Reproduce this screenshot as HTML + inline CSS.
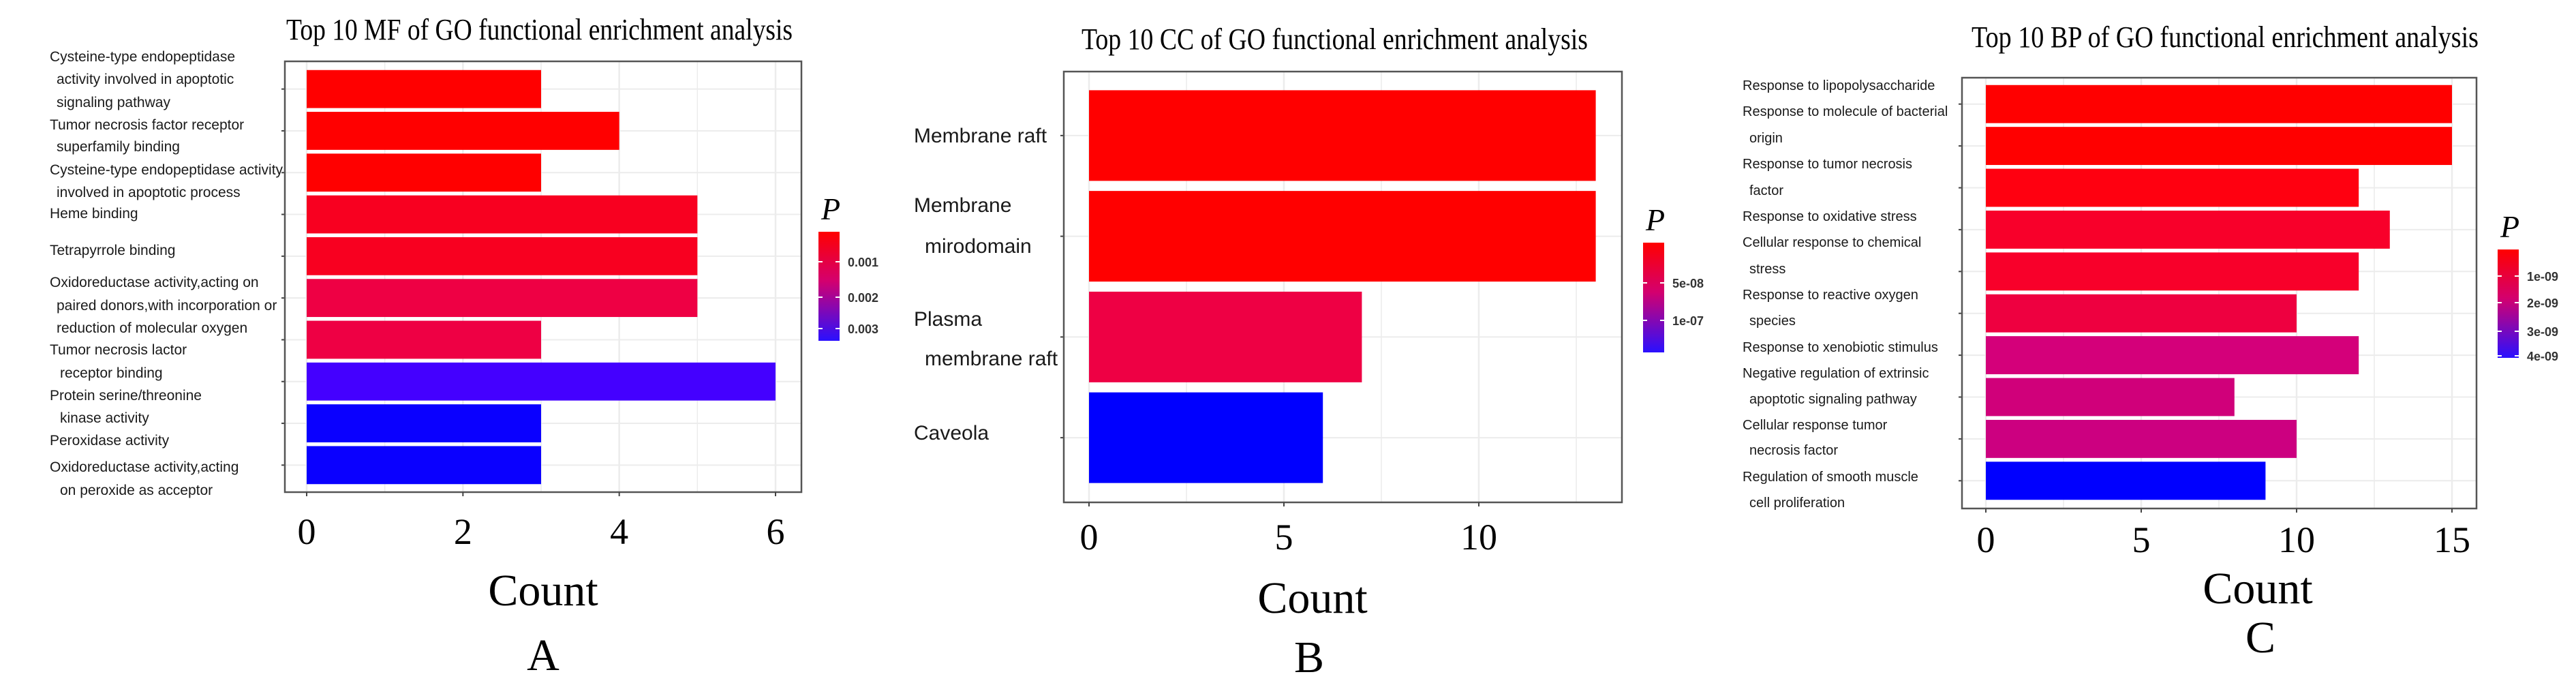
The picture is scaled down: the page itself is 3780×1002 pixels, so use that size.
<!DOCTYPE html>
<html><head><meta charset="utf-8"><style>
html,body{margin:0;padding:0;background:#fff;}
svg{display:block;}
.lab{font-family:"Liberation Sans",sans-serif;fill:#1a1a1a;}
.ser{font-family:"Liberation Serif",serif;fill:#000;}
.leg{font-family:"Liberation Sans",sans-serif;font-weight:bold;fill:#333;font-size:18px;}
</style></head><body>
<svg id="fig" width="3780" height="1002" viewBox="0 0 3780 1002" xmlns="http://www.w3.org/2000/svg">
<defs>
<linearGradient id="pgrad" x1="0" y1="0" x2="0" y2="1"><stop offset="0" stop-color="#ff0000"/><stop offset="0.45" stop-color="#d4006e"/><stop offset="1" stop-color="#2a10ff"/></linearGradient>
</defs>
</svg>
<script>
// Panel A (MF)
const mfLabels=[["Cysteine-type endopeptidase","  activity involved in apoptotic","  signaling pathway"],["Tumor necrosis factor receptor","  superfamily binding"],["Cysteine-type endopeptidase activity","  involved in apoptotic process"],["Heme binding"],["Tetrapyrrole binding"],["Oxidoreductase activity,acting on","  paired donors,with incorporation or","  reduction of molecular oxygen"],["Tumor necrosis lactor","   receptor binding"],["Protein serine/threonine","   kinase activity"],["Peroxidase activity"],["Oxidoreductase activity,acting","   on peroxide as acceptor"]];
const mfCounts=[3,4,3,5,5,5,3,6,3,3];
const mfColors=["#ff0000","#ff0000","#ff0000","#f80020","#f80020","#ee0044","#ee0044","#4400ff","#0a00ff","#0a00ff"];
const mfTicks=[0,2,4,6];
const mfLegendTicks=["0.001","0.002","0.003"];
// Panel B (CC)
const ccLabels=[["Membrane raft"],["Membrane","  mirodomain"],["Plasma","  membrane raft"],["Caveola"]];
const ccCounts=[13,13,7,6];
const ccColors=["#ff0000","#ff0000","#ee0044","#0000ff"];
const ccTicks=[0,5,10];
const ccLegendTicks=["5e-08","1e-07"];
// Panel C (BP)
const bpLabels=[["Response to lipopolysaccharide"],["Response to molecule of bacterial","  origin"],["Response to tumor necrosis","  factor"],["Response to oxidative stress"],["Cellular response to chemical","  stress"],["Response to reactive oxygen","  species"],["Response to xenobiotic stimulus"],["Negative regulation of extrinsic","  apoptotic signaling pathway"],["Cellular response tumor","  necrosis factor"],["Regulation of smooth muscle","  cell proliferation"]];
const bpCounts=[15,15,12,13,12,10,12,8,10,9];
const bpColors=["#ff0000","#ff0000","#ff0010","#f8002a","#f8002a","#ee0040","#d4007a","#d0007a","#cc0080","#0000ff"];
const bpTicks=[0,5,10,15];
const bpLegendTicks=["1e-09","2e-09","3e-09","4e-09"];

// label line baselines (layout, not data)
const mfLineY=[90,123,157,190,222,256,289,320,374,421,455,488,520,554,587,620,653,692,726];
const ccLineY=[209,311,371,478,536,645];
const bpLineY=[132,170,209,247,286,324,362,401,439,477,516,554,592,630,667,706,744];

const NS="http://www.w3.org/2000/svg";
const svg=document.getElementById('fig');
function mk(tag,attrs,parent){const e=document.createElementNS(NS,tag);for(const k in attrs)e.setAttribute(k,attrs[k]);(parent||svg).appendChild(e);return e;}

function panel(cfg,labels,counts,colors,ticks,legTicks,lineY){
  const g=mk('g',{});
  
  
  const xs=v=>cfg.x0+(v-ticks[0])*(cfg.x1-cfg.x0)/(ticks[ticks.length-1]-ticks[0]);
  const bg=mk('rect',{x:cfg.bx0,y:cfg.by0,width:cfg.bx1-cfg.bx0,height:cfg.by1-cfg.by0,fill:'#fff'},g);
  
  
  const step=ticks[1]-ticks[0];
  for(let v=ticks[0];v<=cfg.max+0.001;v+=step/2){
    const gl=mk('line',{x1:xs(v),x2:xs(v),y1:cfg.by0,y2:cfg.by1,stroke:'#ececec','stroke-width':(Math.abs(v/step-Math.round(v/step))<0.01)?2.5:1.5},g);
    
    
  }
  const n=counts.length, band=(cfg.barBot-cfg.barTop)/n;
  for(let i=0;i<n;i++){
    const cy=cfg.barTop+band*(i+0.5);
    mk('line',{x1:cfg.bx0,x2:cfg.bx1,y1:cy,y2:cy,stroke:'#ececec','stroke-width':2},g);
  }
  let li=0;
  for(let i=0;i<n;i++){
    const y=cfg.barTop+band*i+band*(1-cfg.fill)/2;
    const r=mk('rect',{x:xs(0),y:y,width:xs(counts[i])-xs(0),height:band*cfg.fill,fill:colors[i]},g);
    
    
    const lines=labels[i], cy=cfg.barTop+band*(i+0.5);
    const t=mk('text',{class:'lab','font-size':cfg.labSize},g);
    
    
    lines.forEach((ln)=>{
      const ind=(ln.match(/^ */)[0].length);
      const ts=mk('tspan',{x:cfg.labX+ind*cfg.indent,y:lineY[li++]},t);
      ts.textContent=ln.trim();
    });
    mk('line',{x1:cfg.bx0-5,x2:cfg.bx0,y1:cy,y2:cy,stroke:'#444','stroke-width':2},g);
  }
  const fr=mk('rect',{x:cfg.bx0,y:cfg.by0,width:cfg.bx1-cfg.bx0,height:cfg.by1-cfg.by0,fill:'none',stroke:'#555','stroke-width':2.5},g);
  
  
  ticks.forEach(v=>{
    mk('line',{x1:xs(v),x2:xs(v),y1:cfg.by1,y2:cfg.by1+6,stroke:'#444','stroke-width':2},g);
    const tt=mk('text',{x:xs(v),y:cfg.tickY,class:'ser','font-size':54,'text-anchor':'middle'},g);
    
    
    tt.textContent=v;
  });
  const ti=mk('text',{x:cfg.titleX0,y:cfg.titleY,class:'ser','font-size':44,textLength:cfg.titleW,lengthAdjust:'spacingAndGlyphs'},g);
  
  
  ti.textContent=cfg.title;
  const ax=mk('text',{x:cfg.countX,y:cfg.countY,class:'ser','font-size':66,'text-anchor':'middle'},g);
  
  
  ax.textContent='Count';
  const pl=mk('text',{x:cfg.letX,y:cfg.letY,class:'ser','font-size':66,'text-anchor':'middle'},g);
  
  
  pl.textContent=cfg.letter;
  const lp=mk('text',{x:cfg.lgX+4,y:cfg.lgY0-18,class:'ser','font-size':46,'font-style':'italic'},g);
  
  
  lp.textContent='P';
  const lb=mk('rect',{x:cfg.lgX,y:cfg.lgY0,width:31,height:cfg.lgY1-cfg.lgY0,fill:'url(#pgrad)'},g);
  
  
  legTicks.forEach((s,k)=>{
    const y=cfg.legYs[k];
    mk('line',{x1:cfg.lgX,x2:cfg.lgX+6,y1:y,y2:y,stroke:'#fff','stroke-width':2},g);
    mk('line',{x1:cfg.lgX+25,x2:cfg.lgX+31,y1:y,y2:y,stroke:'#fff','stroke-width':2},g);
    const lt=mk('text',{x:cfg.lgX+43,y:y+7,class:'leg'},g);
    
    
    lt.textContent=s;
  });
}

panel({name:'panel-a-mf',bx0:418,bx1:1176,by0:90,by1:722,x0:450,x1:1138,max:6.3,barTop:100,barBot:713,fill:0.91,
  labX:73,labSize:21,indent:5,tickY:798,title:'Top 10 MF of GO functional enrichment analysis',titleX0:420,titleY:58,titleW:743,
  countX:797,countY:888,letter:'A',letX:797,letY:983,lgX:1201,lgY0:340,lgY1:500,legYs:[384,436,482]},
  mfLabels,mfCounts,mfColors,mfTicks,mfLegendTicks,mfLineY);
panel({name:'panel-b-cc',bx0:1561,bx1:2380,by0:105,by1:737,x0:1598,x1:2170,max:13.5,barTop:125,barBot:716,fill:0.9,
  labX:1341,labSize:30,indent:8,tickY:806,title:'Top 10 CC of GO functional enrichment analysis',titleX0:1587,titleY:72,titleW:743,
  countX:1926,countY:899,letter:'B',letX:1921,letY:986,lgX:2411,lgY0:356,lgY1:517,legYs:[415,470]},
  ccLabels,ccCounts,ccColors,ccTicks,ccLegendTicks,ccLineY);
panel({name:'panel-c-bp',bx0:2879,bx1:3634,by0:114,by1:746,x0:2914,x1:3598,max:15.7,barTop:122,barBot:736,fill:0.91,
  labX:2557,labSize:20,indent:5,tickY:810,title:'Top 10 BP of GO functional enrichment analysis',titleX0:2893,titleY:69,titleW:744,
  countX:3313,countY:885,letter:'C',letX:3317,letY:957,lgX:3665,lgY0:366,lgY1:525,legYs:[405,444,486,522]},
  bpLabels,bpCounts,bpColors,bpTicks,bpLegendTicks,bpLineY);
</script>
</body></html>
